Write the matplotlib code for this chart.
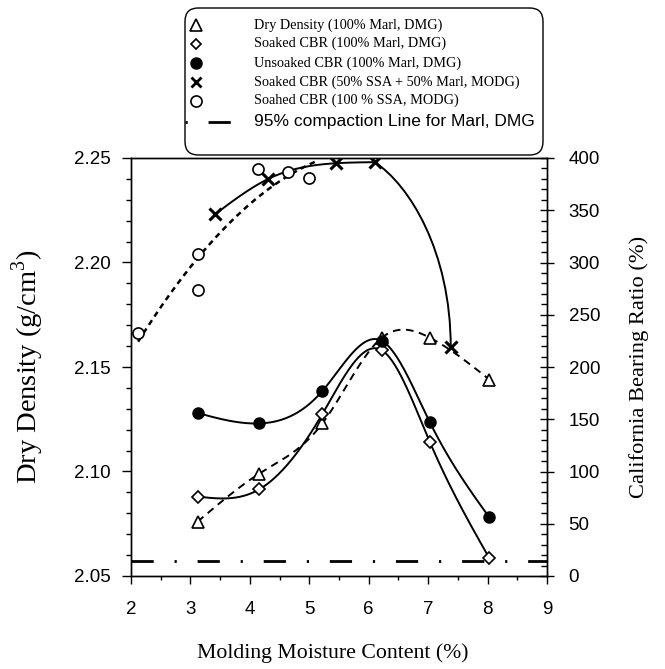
import numpy as np
import matplotlib
matplotlib.use("Agg")
import matplotlib.pyplot as plt
from matplotlib.lines import Line2D
from matplotlib.patches import FancyBboxPatch, PathPatch
from matplotlib.path import Path

plt.rcParams['lines.scale_dashes'] = False
plt.rcParams['mathtext.fontset'] = 'custom'
plt.rcParams['mathtext.rm'] = 'Liberation Serif'

# ---------------- data ----------------
moisture_marl = [3.12, 4.16, 5.22, 6.22, 7.03, 8.03]
dry_density = [2.076, 2.099, 2.123, 2.164, 2.164, 2.144]
soaked_cbr_marl = [76, 83, 155, 216, 128, 17]
unsoaked_cbr_marl = [156, 146, 177, 225, 147, 56]

moisture_mix = [3.41, 4.31, 5.45, 6.10, 7.38]
soaked_cbr_mix = [346, 380, 395, 396, 219]

moisture_ssa = [2.12, 3.12, 3.12, 4.14, 4.65, 5.00]
soaked_cbr_ssa = [233, 308, 274, 389, 387, 381]
ssa_fit_end = 5.15

compaction_95 = 2.057

legend_labels = [
    "Dry Density (100% Marl, DMG)",
    "Soaked CBR (100% Marl, DMG)",
    "Unsoaked CBR (100% Marl, DMG)",
    "Soaked CBR (50% SSA + 50% Marl, MODG)",
    "Soahed CBR (100 % SSA, MODG)",
    "95% compaction Line for Marl, DMG",
]

x_ticks = [2, 3, 4, 5, 6, 7, 8, 9]
y_left_ticks = [2.05, 2.10, 2.15, 2.20, 2.25]
y_right_ticks = [0, 50, 100, 150, 200, 250, 300, 350, 400]


def natural_spline(x, y, n=300):
    x = np.asarray(x, float); y = np.asarray(y, float)
    N = len(x); h = np.diff(x)
    A = np.zeros((N, N)); b = np.zeros(N)
    A[0, 0] = 1; A[-1, -1] = 1
    for i in range(1, N - 1):
        A[i, i - 1] = h[i - 1]; A[i, i] = 2 * (h[i - 1] + h[i]); A[i, i + 1] = h[i]
        b[i] = 3 * ((y[i + 1] - y[i]) / h[i] - (y[i] - y[i - 1]) / h[i - 1])
    c = np.linalg.solve(A, b)
    xs = np.linspace(x[0], x[-1], n)
    idx = np.clip(np.searchsorted(x, xs) - 1, 0, N - 2)
    dx = xs - x[idx]
    bc = (y[idx + 1] - y[idx]) / h[idx] - h[idx] * (2 * c[idx] + c[idx + 1]) / 3
    d = (c[idx + 1] - c[idx]) / (3 * h[idx])
    return xs, y[idx] + bc * dx + c[idx] * dx ** 2 + d * dx ** 3


W, H = 665, 669
fig = plt.figure(figsize=(W / 100, H / 100), dpi=100)
ax = fig.add_axes([131 / W, 1 - 576 / H, (547 - 131) / W, (576 - 158) / H])
ax2 = ax.twinx()

serif = ['Liberation Serif', 'DejaVu Serif']
sans = ['Liberation Sans', 'DejaVu Sans']
LW = 1.4
TICK_FS = 13.5

# dry density (left axis)
xs, ys = natural_spline(moisture_marl, dry_density)
ax.plot(xs, ys, color='black', lw=LW, dashes=(5.5, 4))
ax.plot(moisture_marl, dry_density, ls='none', marker='^', ms=8.8, mfc='white',
        mec='black', mew=1.2, zorder=5)
# 95% compaction line
ax.axhline(compaction_95, color='black', lw=2.0, dashes=(16, 15, 1.6, 15),
           dash_capstyle='butt')

ax.set_xlim(2, 9)
ax.set_ylim(2.05, 2.25)
ax.set_xticks(x_ticks)
ax.set_yticks(y_left_ticks)
ax.set_yticklabels([f"{v:.2f}" for v in y_left_ticks])
ax.set_xticks(np.arange(2.5, 9, 1.0), minor=True)
ax.set_yticks(np.arange(2.05, 2.25, 0.01), minor=True)

# CBR (right axis)
xs, ys = natural_spline(moisture_marl, soaked_cbr_marl)
ax2.plot(xs, ys, color='black', lw=LW)
ax2.plot(moisture_marl, soaked_cbr_marl, ls='none', marker='D', ms=6, mfc='white',
         mec='black', mew=1.2, zorder=5)
xs, ys = natural_spline(moisture_marl, unsoaked_cbr_marl)
ax2.plot(xs, ys, color='black', lw=LW)
ax2.plot(moisture_marl, unsoaked_cbr_marl, ls='none', marker='o', ms=8, mfc='black',
         mec='black', zorder=5)

# mix curve: spline through rising part, bezier for the steep drop
xs, ys = natural_spline(moisture_mix[:4], soaked_cbr_mix[:4])
ax2.plot(xs, ys, color='black', lw=LW)
x0, y0 = moisture_mix[3], soaked_cbr_mix[3]
x3, y3 = moisture_mix[4], soaked_cbr_mix[4]
verts = [(x0, y0), (x0 + 0.45 * (x3 - x0), y0 + 0.12 * (y3 - y0)),
         (x3, y3 + 0.52 * (y0 - y3)), (x3, y3)]
ax2.add_patch(PathPatch(Path(verts, [Path.MOVETO, Path.CURVE4, Path.CURVE4, Path.CURVE4]),
                        fc='none', ec='black', lw=LW))
ax2.plot(moisture_mix, soaked_cbr_mix, ls='none', marker='x', ms=8, mec='black',
         mew=2.2, zorder=5)

# SSA fit
coef = np.polyfit(moisture_ssa, soaked_cbr_ssa, 2)
xf = np.linspace(moisture_ssa[0], ssa_fit_end, 200)
ax2.plot(xf, np.polyval(coef, xf), color='black', lw=1.8, dashes=(4, 3.2))
ax2.plot(moisture_ssa, soaked_cbr_ssa, ls='none', marker='o', ms=8, mfc='white',
         mec='black', mew=1.2, zorder=5)

ax2.set_ylim(0, 400)
ax2.set_yticks(y_right_ticks)
ax2.set_yticks(np.arange(0, 401, 10), minor=True)

# ticks and spines
for a in (ax, ax2):
    for s in a.spines.values():
        s.set_linewidth(1.0)
ax.tick_params(axis='x', which='major', direction='out', length=6, width=1.0, pad=12,
               top=False, labelsize=TICK_FS)
ax.tick_params(axis='x', which='minor', direction='out', length=3, width=1.0, top=False)
ax.tick_params(axis='y', which='major', direction='out', length=6.5, width=1.0, pad=8,
               right=False, labelsize=TICK_FS)
ax.tick_params(axis='y', which='minor', direction='out', length=3.5, width=1.0, right=False)
ax2.tick_params(axis='y', which='major', direction='inout', length=10, width=1.0, pad=10.5,
                labelsize=TICK_FS)
ax2.tick_params(axis='y', which='minor', direction='in', length=4, width=1.0)
for lab in ax.get_xticklabels() + ax.get_yticklabels() + ax2.get_yticklabels():
    lab.set_fontfamily(sans)

ax.set_xlabel("Molding Moisture Content (%)", fontfamily=serif, fontsize=15.7, labelpad=18)
ax.xaxis.label.set_x(0.484)
ax.set_ylabel("Dry Density (g/cm$^3$)", fontfamily=serif, fontsize=20.5, labelpad=20)
ax2.set_ylabel("California Bearing Ratio (%)", fontfamily=serif, fontsize=16.2, labelpad=21)

# ---------------- legend (drawn in figure pixel coordinates) ----------------
def fx(px):
    return px / W

def fy(py):
    return 1 - py / H

box = FancyBboxPatch((fx(185), fy(155)), fx(543) - fx(185), fy(8) - fy(155),
                     boxstyle="round,pad=0,rounding_size=0.02", transform=fig.transFigure,
                     fc='white', ec='black', lw=1.0, zorder=10)
fig.add_artist(box)
rows = [25, 43.5, 63, 82, 100.5, 121.5]
handles = [
    dict(marker='^', ms=8, mfc='white', mec='black', mew=1.2),
    dict(marker='D', ms=5.5, mfc='white', mec='black', mew=1.2),
    dict(marker='o', ms=8, mfc='black', mec='black'),
    dict(marker='x', ms=7, mec='black', mew=2.0),
    dict(marker='o', ms=8, mfc='white', mec='black', mew=1.2),
]
for r, hd, lab in zip(rows[:5], handles, legend_labels[:5]):
    fig.add_artist(Line2D([fx(196)], [fy(r)], ls='none', transform=fig.transFigure,
                          zorder=11, **hd))
    fig.text(fx(254), fy(r), lab, fontfamily=serif, fontsize=10.3, va='center', ha='left',
             zorder=11)
fig.add_artist(Line2D([fx(185), fx(233)], [fy(rows[5]), fy(rows[5])], color='black', lw=2.0,
                      dashes=(1.6, 15, 16, 15), transform=fig.transFigure, zorder=11,
                      dash_capstyle='butt'))
fig.text(fx(254), fy(rows[5]), legend_labels[5], fontfamily=sans, fontsize=12.5,
         va='center', ha='left', zorder=11)

fig.savefig("out.png", dpi=100)
